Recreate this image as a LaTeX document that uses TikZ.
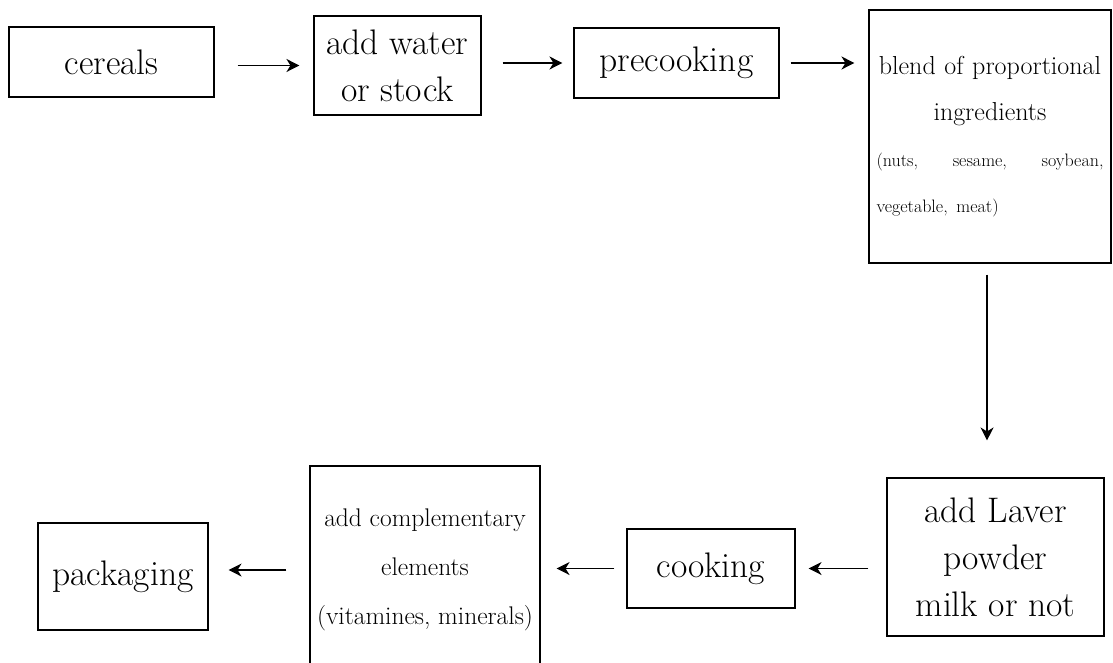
\documentclass[tikz,border=0pt]{standalone}
\usepackage{tikz}
\usetikzlibrary{positioning, arrows.meta}
\usepackage{xcolor}

\begin{document}
\begin{tikzpicture}[
  x=1pt, y=-1pt,
  font=\fontsize{35.5}{47}\selectfont,
  proc/.style={rectangle, draw, line width=1.1pt, inner sep=4pt, align=center},
  small/.style={proc, font=\fontsize{26}{46}\selectfont},
  arr/.style={-{Stealth[length=13pt, width=13pt, inset=4pt]}, line width=1.2pt}
]
\useasboundingbox (0,0) rectangle (1113,663);
% ----- top row -----
\node[proc, minimum width=205pt, minimum height=70pt] (cereals) at (111.5,62) {cereals};
\node[proc, minimum width=167pt, minimum height=99pt] (water) at (397.5,65.5) {add water\\or stock};
\node[proc, minimum width=205pt, minimum height=70pt] (precook) at (676.5,63) {precooking};
\node[small, minimum width=242pt, minimum height=253pt, text width=227pt] (blend) at (990,136.5)
  {\mbox{blend of proportional}\\ingredients\\
   {\fontsize{18}{46}\selectfont\makebox[227pt][s]{(nuts,\hfill sesame,\hfill soybean,}}\\
   {\fontsize{18}{46}\selectfont\makebox[227pt][l]{vegetable, meat)}}};
% ----- bottom row -----
\node[proc, minimum width=217pt, minimum height=158pt] (laver) at (995.5,557) {add Laver\\powder\\milk or not};
\node[proc, minimum width=168pt, minimum height=79pt] (cooking) at (711,568.5) {cooking};
\node[proc, font=\fontsize{25.5}{49}\selectfont, minimum width=230pt, minimum height=208pt] (compl) at (425,570)
  {add complementary\\elements\\(vitamines, minerals)};
\node[proc, minimum width=170pt, minimum height=107pt] (pack) at (123,576.5) {packaging};
% ----- arrows -----
\draw[arr, shorten <=23pt, shorten >=14pt] (water.west -| cereals.east) -- (water.west);
\draw[arr, shorten <=21pt, shorten >=11pt] (precook.west -| water.east) -- (precook.west);
\draw[arr, shorten <=11pt, shorten >=14pt] (precook.east) -- (precook.east -| blend.west);
\draw[arr, shorten <=11pt, shorten >=37pt] ([xshift=-3pt]blend.south) -- ([xshift=-3pt]blend.south |- laver.north);
\draw[arr, shorten <=18pt, shorten >=13pt] (cooking.east -| laver.west) -- (cooking.east);
\draw[arr, shorten <=12pt, shorten >=16pt] (cooking.west) -- (cooking.west -| compl.east);
\draw[arr, shorten <=23pt, shorten >=20pt] (compl.west) -- (compl.west -| pack.east);
\end{tikzpicture}
\end{document}
